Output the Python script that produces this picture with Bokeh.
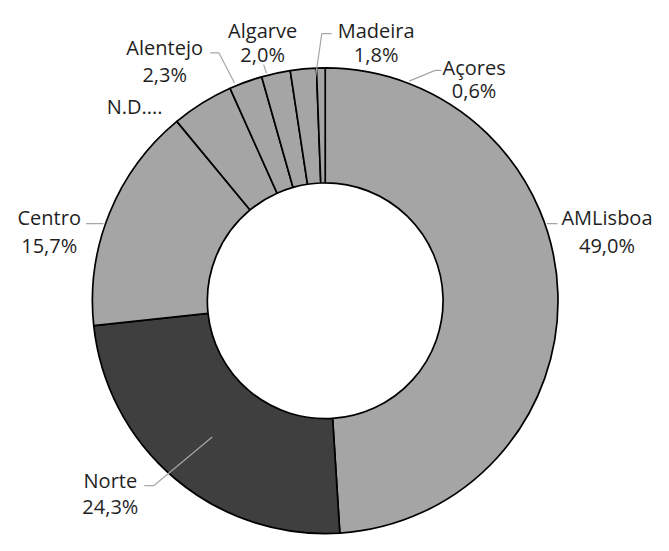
import math
from bokeh.plotting import figure
from bokeh.models import Range1d, ColumnDataSource
from bokeh.core.properties import value
from bokeh.embed import file_html
from bokeh.resources import INLINE

# ---- data ----
regions = ["AMLisboa", "Norte", "Centro", "N.D....", "Alentejo", "Algarve", "Madeira", "Açores"]
shares = [49.0, 24.3, 15.7, 4.3, 2.3, 2.0, 1.8, 0.6]
show_pct = [True, True, True, False, True, True, True, True]
fills = ["#a5a5a5", "#3f3f3f", "#a5a5a5", "#a5a5a5", "#a5a5a5", "#a5a5a5", "#a5a5a5", "#a5a5a5"]

# ---- layout (reference pixel coordinates; y grows downward) ----
CX, CY = 326.5, 307.5
R_OUT, R_IN = 240, 121.5
# label anchor: (center x, baseline of name, baseline of percentage)
label_pos = {
    "AMLisboa": (617, 222, 250),
    "Norte": (105, 493, 520),
    "Centro": (42, 222, 250),
    "N.D....": (130, 107, None),
    "Alentejo": (161, 46, 74),
    "Algarve": (262, 29, 54),
    "Madeira": (379, 29, 54),
    "Açores": (480, 67, 91),
}
leaders = [
    [(555, 228), (566, 228)],
    [(140, 498), (150, 498), (210, 448)],
    [(80, 228), (98, 228)],
    [(208, 52), (217, 52), (233, 83)],
    [(263, 64), (266, 73)],
    [(333, 32), (323, 32), (315, 87)],
    [(413, 81), (440, 70), (446, 70)],
]

total = sum(shares)
starts, ends = [], []
c = 0.0
for v in shares:
    starts.append(math.pi / 2 - 2 * math.pi * c / total)
    c += v
    ends.append(math.pi / 2 - 2 * math.pi * c / total)

src = ColumnDataSource(dict(
    x=[CX] * len(shares), y=[-CY] * len(shares),
    start=starts, end=ends, color=fills, region=regions, share=shares,
))

W, H = 653, 535
S = 0.97
AX, BY = 8.0, 2.0
p = figure(width=W, height=H, output_backend="svg", toolbar_location=None,
           x_range=Range1d(-AX / S, (W - AX) / S),
           y_range=Range1d(-(H - BY) / S, BY / S), min_border=0)
p.axis.visible = False
p.grid.visible = False
p.outline_line_color = None
p.background_fill_color = "white"

p.annular_wedge(x="x", y="y", inner_radius=R_IN, outer_radius=R_OUT,
                start_angle="start", end_angle="end", direction="clock",
                fill_color="color", line_color="black", line_width=1.7, source=src)

p.multi_line(xs=[[pt[0] for pt in l] for l in leaders],
             ys=[[-pt[1] for pt in l] for l in leaders],
             line_color="#a6a6a6", line_width=1.2)

tx, ty, tt = [], [], []
for name, v, sp in zip(regions, shares, show_pct):
    x0, b1, b2 = label_pos[name]
    tx.append(x0); ty.append(-b1); tt.append(name)
    if sp:
        tx.append(x0); ty.append(-b2); tt.append(f"{v:.1f}".replace(".", ",") + "%")

p.text(x=tx, y=ty, text=tt, text_align="center", text_baseline="alphabetic",
       text_font=value("Open Sans"), text_font_size="20px", text_color="#1f1f1f")

open("out.html", "w").write(file_html(p, INLINE))
